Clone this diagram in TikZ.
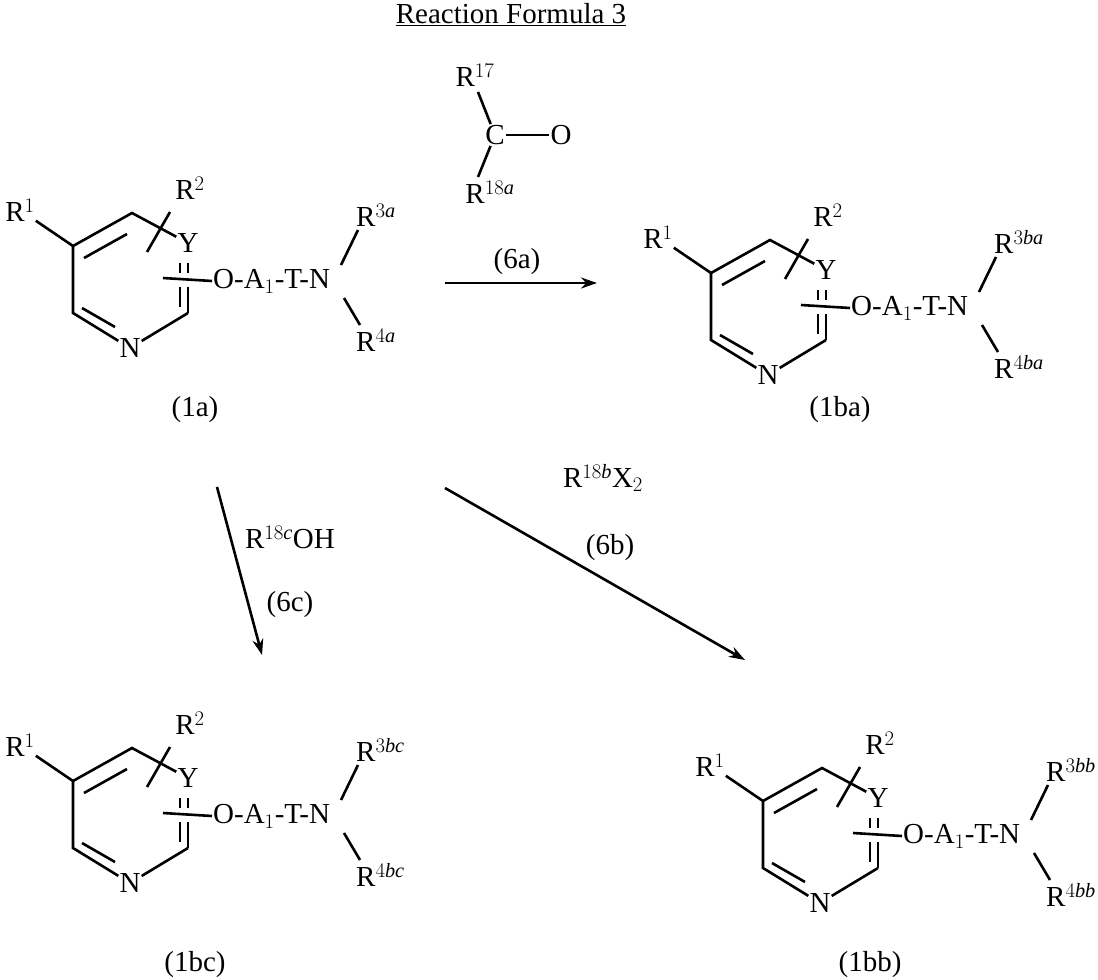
\documentclass[tikz,border=0pt]{standalone}
\usepackage{fontspec}
\setmainfont{Liberation Serif}
\usetikzlibrary{arrows.meta}
\newcommand{\pyr}[5]{% shift, prefix, R3 suffix, R4 suffix, label
\begin{scope}[shift={#1}]
\coordinate (#2a) at (73,246);
\coordinate (#2b) at (132,213);
\coordinate (#2c) at (188,313);
\coordinate (#2d) at (73,313);
\node[atom] (#2r1) at (20,210) {R$^1$};
\node[atom] (#2r2) at (190,188) {R$^2$};
\node[atom] (#2y) at (188,243) {Y};
\node[atom] (#2n) at (130,348) {N};
\node[atom,anchor=west] (#2chain) at (212,281) {O-A$_1$-T-N};
\node[atom,anchor=west] (#2r3) at (355,215) {R$^{#3}$};
\node[atom,anchor=west] (#2r4) at (355,340) {R$^{#4}$};
\coordinate (#2w1) at (163,278);
\coordinate (#2s1) at (147,252);
\coordinate (#2s2) at (170,212);
\draw[bond] (#2r1) -- (#2a) -- (#2b) -- (#2y);
\draw[bond] (84,258) -- (127,234);
\draw[bond] (#2a) -- (#2d) -- (#2n) -- (#2c);
\draw[bond] (82,308) -- (115,327);
\draw[bond] (188,263) -- (188,273) (180,263) -- (180,273);
\draw[bond] (188,287) -- (#2c) (180,287) -- (180,307);
\draw[bond] (#2w1) -- (#2chain.west);
\draw[bond] (#2s1) -- (#2s2);
\draw[bond] (341,265) -- (358,230);
\draw[bond] (344,298) -- (360,325);
\end{scope}
\node[atom] (#2lbl) at #5 {(#2)};
}
\begin{document}
\begin{tikzpicture}[x=1pt,y=-1pt]
\tikzset{
atom/.style={inner sep=1pt,font=\fontsize{29}{31}\selectfont},
bond/.style={line width=2.6pt},
rxn/.style={line width=2.6pt,-{Stealth[length=16pt,width=11pt]}},
}
\useasboundingbox (0,0) rectangle (1098,980);
\node[atom] (title) at (511,15) {\underline{Reaction Formula 3}};
% ketone reagent
\node[atom] (r17) at (475,75) {R$^{17}$};
\node[atom] (cc) at (495,135) {C};
\node[atom] (oo) at (561,135) {O};
\node[atom] (r18a) at (490,192) {R$^{18\mathit{a}}$};
\draw[bond] (478,92) -- (cc);
\draw[bond] (cc) -- (478,177);
\draw[bond] (cc.east) -- (oo.west);
% molecules
\pyr{(0,0)}{1a}{3\mathit{a}}{4\mathit{a}}{(195,410)}
\pyr{(638,27)}{1ba}{3\mathit{ba}}{4\mathit{ba}}{(840,410)}
\pyr{(0,535)}{1bc}{3\mathit{bc}}{4\mathit{bc}}{(195,965)}
\pyr{(690,555)}{1bb}{3\mathit{bb}}{4\mathit{bb}}{(870,965)}
% arrows
\coordinate (s6a) at (445,283); \coordinate (e6a) at (597,283);
\coordinate (s6b) at (445,488); \coordinate (e6b) at (745,660);
\coordinate (s6c) at (217,487); \coordinate (e6c) at (262,655);
\draw[rxn] (s6a) -- (e6a);
\draw[rxn] (s6b) -- (e6b);
\draw[rxn] (s6c) -- (e6c);
\node[atom] (l6a) at (517,262) {(6a)};
\node[atom] (l6b) at (610,548) {(6b)};
\node[atom] (l6c) at (290,605) {(6c)};
\node[atom] (rx2) at (603,478) {R$^{18\mathit{b}}$X$_2$};
\node[atom] (roh) at (290,537) {R$^{18\mathit{c}}$OH};
\end{tikzpicture}
\end{document}
